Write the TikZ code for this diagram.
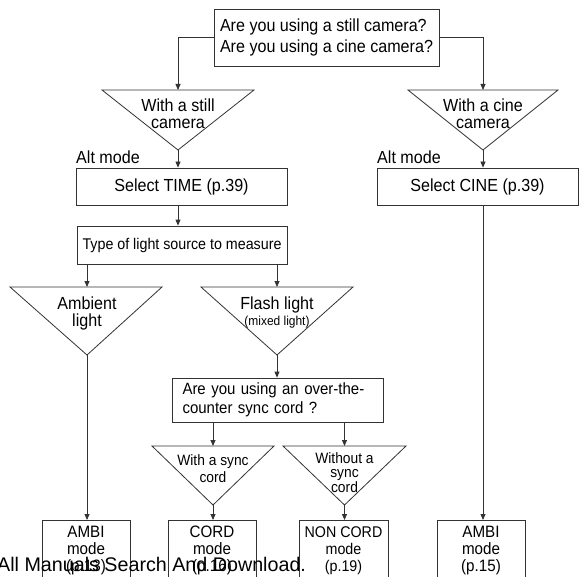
\documentclass[tikz,border=0pt]{standalone}
\usepackage{fontspec}
\setmainfont{Liberation Sans}
\newfontfamily\gfont[FakeStretch=0.92]{Liberation Sans}
\usetikzlibrary{arrows.meta}
\begin{document}
\begin{tikzpicture}[x=1pt,y=-1pt,
  ln/.style={line width=0.8pt, draw=black!80},
  arr/.style={ln, -{Triangle[length=6pt,width=5pt]}},
  box/.style={ln, rectangle, inner sep=0pt, font=\gfont\fontsize{17.5}{19}\selectfont, align=center},
  txt/.style={inner sep=0pt, font=\gfont\fontsize{17.5}{17}\selectfont, align=center},
  small/.style={inner sep=0pt, font=\gfont\fontsize{15}{13.8}\selectfont, align=center},
  modebox/.style={box, font=\gfont\fontsize{16.5}{17}\selectfont, minimum width=88pt, minimum height=60pt, anchor=north},
  tri/.style={ln, fill=white}
]
\useasboundingbox (0,0) rectangle (580,577);
\clip (0,0) rectangle (580,577);

% top question
\node[box, font=\gfont\fontsize{17.5}{21.5}\selectfont, minimum width=225pt, minimum height=57pt, align=left] (q1) at (326.5,37.5)
  {Are you using a still camera?\\Are you using a cine camera?};

% still camera triangle
\coordinate (t1top) at (178,90); \coordinate (t1apex) at (178,150);
\draw[tri] (102,90) -- (254,90) -- (t1apex) -- cycle;
\node[txt] (t1) at (178,114) {With a still\\camera};

% cine camera triangle
\coordinate (t2top) at (483,90); \coordinate (t2apex) at (483,150);
\draw[tri] (408,90) -- (558,90) -- (t2apex) -- cycle;
\node[txt] (t2) at (483,114) {With a cine\\camera};

\draw[arr] (q1.west) -| (t1top);
\draw[arr] (q1.east) -| (t2top);

% Alt mode labels
\node[txt, anchor=west] (alt1) at (76,157) {Alt mode};
\node[txt, anchor=west] (alt2) at (377,157) {Alt mode};

% select boxes
\node[box, minimum width=211pt, minimum height=37pt] (time) at (181.5,186.5) {Select TIME (p.39)};
\node[box, minimum width=201pt, minimum height=37pt] (cine) at (477.5,186.5) {Select CINE (p.39)};
\draw[arr] (t1apex) -- (t1apex |- time.north);
\draw[arr] (t2apex) -- (t2apex |- cine.north);

% type of light
\node[box, font=\gfont\fontsize{15.5}{17}\selectfont, minimum width=210pt, minimum height=38pt] (type) at (182,245) {Type of light source to measure};
\draw[arr] (t1apex |- time.south) -- (t1apex |- type.north);

% ambient / flash triangles
\coordinate (atop) at (87,287); \coordinate (aapex) at (87,355);
\draw[tri] (10,287) -- (162,287) -- (aapex) -- cycle;
\node[txt] (amb) at (87,313) {Ambient\\light};
\coordinate (ftop) at (277,287); \coordinate (fapex) at (277,355);
\draw[tri] (201,287) -- (353,287) -- (fapex) -- cycle;
\node[txt] (fl) at (277,305) {Flash light};
\node[inner sep=0pt, font=\gfont\fontsize{13}{14}\selectfont] (mix) at (277,322) {(mixed light)};
\draw[arr] (atop |- type.south) -- (atop);
\draw[arr] (ftop |- type.south) -- (ftop);

% over-the-counter question
\node[box, font=\gfont\fontsize{16.3}{19}\selectfont, minimum width=211pt, minimum height=44pt, align=left, text width=190pt] (q2) at (277.5,400)
  {Are you using an over-the-\\counter sync cord ?};
\draw[arr] (fapex) -- (fapex |- q2.north);

% sync triangles
\coordinate (stop) at (213,446); \coordinate (sapex) at (213,505);
\draw[tri] (152,446) -- (274,446) -- (sapex) -- cycle;
\node[small, font=\gfont\fontsize{15}{17}\selectfont] (sy) at (213,469) {With a sync\\cord};
\coordinate (ntop) at (344.5,446); \coordinate (napex) at (344.5,505);
\draw[tri] (283,446) -- (406,446) -- (napex) -- cycle;
\node[small] (ns) at (344.5,473) {Without a\\sync\\cord};
\draw[arr] (stop |- q2.south) -- (stop);
\draw[arr] (ntop |- q2.south) -- (ntop);

% bottom boxes
\node[modebox] (m1) at (86,520) {AMBI\\mode\\(p.13)};
\node[modebox] (m2) at (212,520) {CORD\\mode\\(p.16)};
\node[modebox, font=\gfont\fontsize{15.5}{17}\selectfont, minimum width=89pt] (m3) at (343.5,520) {NON CORD\\mode\\(p.19)};
\node[modebox] (m4) at (481,520) {AMBI\\mode\\(p.15)};

\draw[arr] (aapex) -- (aapex |- m1.north);
\draw[arr] (sapex) -- (sapex |- m2.north);
\draw[arr] (napex) -- (napex |- m3.north);
\draw[arr] (t2apex |- cine.south) -- (t2apex |- m4.north);

% watermark
\node[inner sep=0pt, anchor=base west, font=\fontsize{19.7}{22}\selectfont] (wm) at (-3,571) {All Manuals Search And Download.};
\end{tikzpicture}
\end{document}
